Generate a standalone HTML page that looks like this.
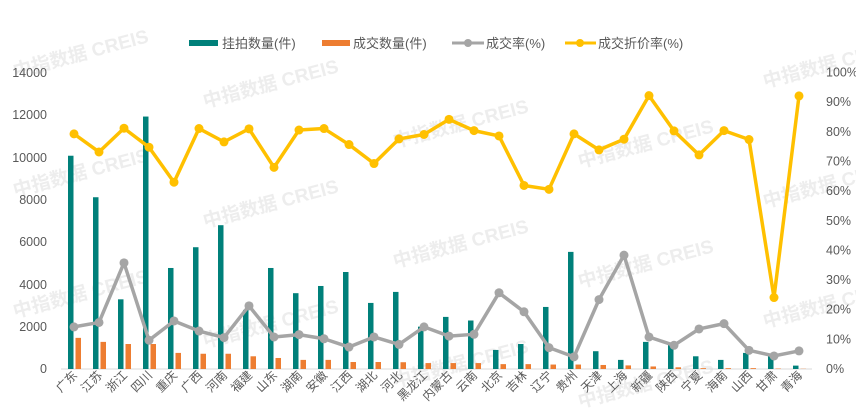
<!DOCTYPE html>
<html><head><meta charset="utf-8"><style>
html,body{margin:0;padding:0;background:#fff;}
svg{display:block;font-family:"Liberation Sans","Noto Sans CJK SC",sans-serif;}
</style></head><body>
<svg width="856" height="418" viewBox="0 0 856 418" xmlns="http://www.w3.org/2000/svg">
<g id="wm" font-size="19" font-weight="bold" fill="#e9e9e9" opacity="0.8">
<text transform="translate(205,108) rotate(-15)">中指数据 CREIS</text>
<text transform="translate(15,197) rotate(-15)">中指数据 CREIS</text>
<text transform="translate(205,228) rotate(-15)">中指数据 CREIS</text>
<text transform="translate(15,318) rotate(-15)">中指数据 CREIS</text>
<text transform="translate(205,348) rotate(-15)">中指数据 CREIS</text>
<text transform="translate(395,148) rotate(-15)">中指数据 CREIS</text>
<text transform="translate(395,268) rotate(-15)">中指数据 CREIS</text>
<text transform="translate(395,388) rotate(-15)">中指数据 CREIS</text>
<text transform="translate(580,168) rotate(-15)">中指数据 CREIS</text>
<text transform="translate(580,288) rotate(-15)">中指数据 CREIS</text>
<text transform="translate(580,408) rotate(-15)">中指数据 CREIS</text>
<text transform="translate(765,88) rotate(-15)">中指数据 CREIS</text>
<text transform="translate(765,208) rotate(-15)">中指数据 CREIS</text>
<text transform="translate(765,328) rotate(-15)">中指数据 CREIS</text>
<text transform="translate(15,78) rotate(-15)">中指数据 CREIS</text>
</g>
<g id="legend" font-size="13" fill="#595959">
<rect x="189" y="40" width="29" height="6" fill="#00807a"/><text x="222" y="48">挂拍数量(件)</text>
<rect x="322" y="40" width="28" height="6" fill="#ed7d31"/><text x="353" y="48">成交数量(件)</text>
<line x1="452" y1="43" x2="484" y2="43" stroke="#a5a5a5" stroke-width="3"/><circle cx="468" cy="43" r="4" fill="#a5a5a5"/><text x="486" y="48">成交率(%)</text>
<line x1="565" y1="43" x2="596" y2="43" stroke="#ffc000" stroke-width="3"/><circle cx="580" cy="43" r="4" fill="#ffc000"/><text x="598" y="48">成交折价率(%)</text>
</g>
<g font-size="12.5" fill="#595959">
<g text-anchor="end">
<text x="47" y="373">0</text><text x="47" y="331">2000</text><text x="47" y="289">4000</text><text x="47" y="246">6000</text><text x="47" y="204">8000</text><text x="47" y="162">10000</text><text x="47" y="119">12000</text><text x="47" y="77">14000</text>
</g>
<g text-anchor="start" id="rt"></g>
</g>
<line x1="61" y1="369" x2="812" y2="369" stroke="#d9d9d9" stroke-width="1"/>
<g id="bars"></g>
<g id="lines"></g>
<g id="xl" font-size="12" fill="#595959" text-anchor="end"></g>
<script>
var names=["广东","江苏","浙江","四川","重庆","广西","河南","福建","山东","湖南","安徽","江西","湖北","河北","黑龙江","内蒙古","云南","北京","吉林","辽宁","贵州","天津","上海","新疆","陕西","宁夏","海南","山西","甘肃","青海"];
var teal=[10070,8110,3290,11920,4770,5750,6790,2790,4770,3580,3920,4580,3120,3640,2000,2460,2290,900,1180,2930,5530,840,430,1280,1130,600,430,760,660,160];
var org=[1470,1280,1180,1180,760,720,720,600,520,430,430,330,330,320,280,280,280,230,230,210,210,190,170,120,80,40,40,40,20,10];
var yel=[79.3,73.2,81.2,74.8,63,81.1,76.6,81,68,80.6,81.1,75.7,69.3,77.6,79.1,84.2,80.4,78.6,61.9,60.6,79.3,73.9,77.5,92.2,80.3,72.2,80.4,77.4,24.1,92.1];
var gr=[14.2,15.7,35.8,9.7,16.2,12.8,10.6,21.3,10.8,11.6,10.2,7.4,10.8,8.3,14.2,11.1,11.7,25.7,19.3,7.2,4.1,23.4,38.4,10.8,8,13.5,15.3,6.3,4.4,6.1];
var NS="http://www.w3.org/2000/svg";
function el(t,a,p){var e=document.createElementNS(NS,t);for(var k in a)e.setAttribute(k,a[k]);p.appendChild(e);return e;}
var y0=369,H=296.5;
var bars=document.getElementById("bars"),lines=document.getElementById("lines"),xl=document.getElementById("xl"),rt=document.getElementById("rt");
for(var i=0;i<=10;i++){var t=el("text",{x:826,y:y0-H*i/10+4},rt);t.textContent=(i*10)+"%";}
function yv(v){return y0-v/14000*H;}function yp(p){return y0-p/100*H;}
var pg="",py="";
for(var i=0;i<30;i++){var c=74+25*i;
el("rect",{x:c-6,y:yv(teal[i]),width:5.5,height:y0-yv(teal[i]),fill:"#00807a"},bars);
el("rect",{x:c+1.5,y:yv(org[i]),width:5.5,height:y0-yv(org[i]),fill:"#ed7d31"},bars);
pg+=(i?"L":"M")+c+","+yp(gr[i]);py+=(i?"L":"M")+c+","+yp(yel[i]);
var t=el("text",{transform:"translate("+(c+4)+",376) rotate(-45)"},xl);t.textContent=names[i];}
el("path",{d:pg,fill:"none",stroke:"#a5a5a5","stroke-width":3.5,"stroke-linejoin":"round"},lines);
el("path",{d:py,fill:"none",stroke:"#ffc000","stroke-width":3.5,"stroke-linejoin":"round"},lines);
for(var i=0;i<30;i++){var c=74+25*i;
el("circle",{cx:c,cy:yp(gr[i]),r:4.5,fill:"#a5a5a5"},lines);
el("circle",{cx:c,cy:yp(yel[i]),r:4.5,fill:"#ffc000"},lines);}
</script>
</svg>
</body></html>
